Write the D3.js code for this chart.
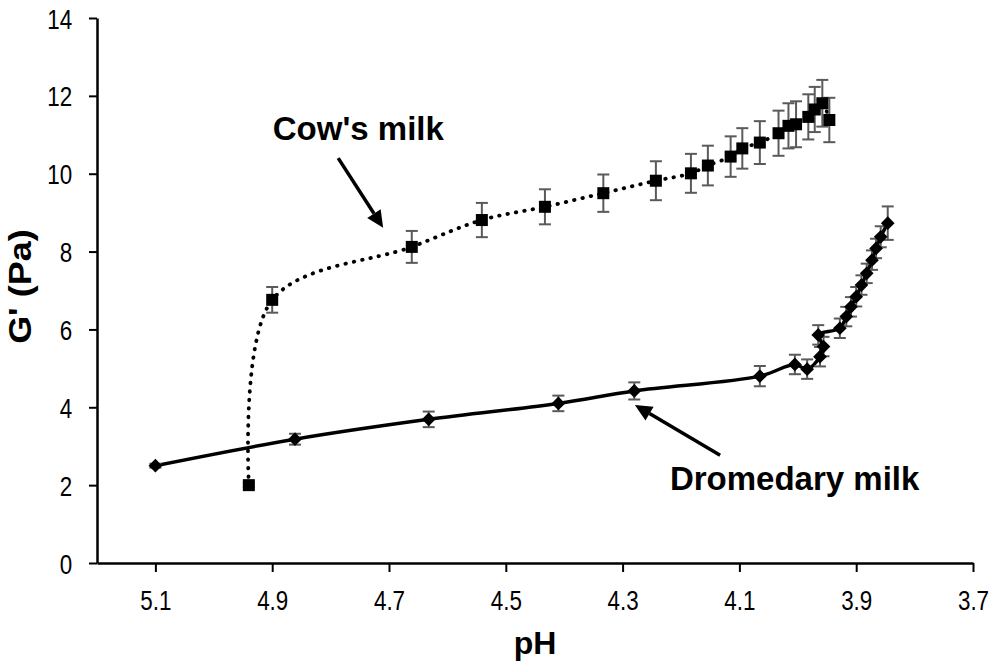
<!DOCTYPE html>
<html>
<head>
<meta charset="utf-8">
<script src="https://cdn.jsdelivr.net/npm/d3@7/dist/d3.min.js"></script>
<style>
  html, body { margin: 0; padding: 0; background: #fff; }
  svg { display: block; }
</style>
</head>
<body>
<svg id="chart" width="989" height="661"></svg>
<script>
// ---- Data ----
const cowPH  = [4.94, 4.90, 4.661, 4.541, 4.433, 4.333, 4.243, 4.183, 4.154, 4.115, 4.095, 4.065, 4.033, 4.016, 4.003, 3.982, 3.971, 3.958, 3.946];
const cowG   = [2.00, 6.76, 8.12, 8.81, 9.15, 9.50, 9.82, 10.01, 10.21, 10.44, 10.65, 10.80, 11.04, 11.23, 11.27, 11.46, 11.65, 11.81, 11.38];
const cowErr = [0.05, 0.33, 0.41, 0.44, 0.45, 0.48, 0.50, 0.50, 0.51, 0.52, 0.52, 0.55, 0.58, 0.58, 0.59, 0.58, 0.58, 0.60, 0.57];

const droPH  = [5.10, 4.861, 4.632, 4.410, 4.280, 4.065, 4.005, 3.984, 3.962, 3.956, 3.965, 3.928, 3.917, 3.909, 3.900, 3.891, 3.882, 3.873, 3.866, 3.858, 3.846];
const droG   = [2.50, 3.18, 3.69, 4.10, 4.42, 4.80, 5.10, 4.98, 5.30, 5.56, 5.86, 6.03, 6.33, 6.58, 6.84, 7.14, 7.44, 7.78, 8.08, 8.38, 8.73];
const droErr = [0.05, 0.14, 0.20, 0.20, 0.22, 0.26, 0.25, 0.25, 0.25, 0.25, 0.25, 0.25, 0.25, 0.25, 0.25, 0.25, 0.25, 0.25, 0.25, 0.27, 0.43];

const xTicks = [5.1, 4.9, 4.7, 4.5, 4.3, 4.1, 3.9, 3.7];
const yTicks = [0, 2, 4, 6, 8, 10, 12, 14];
const xTitle = "pH";
const yTitle = "G' (Pa)";

// annotations in data units
const annLabels = ["Cow's milk", "Dromedary milk"];
const annLabelPH = [4.899, 4.219];
const annLabelG  = [10.87, 1.875];
const annTailPH  = [4.787, 4.133];
const annTailG   = [10.40, 2.77];
const annTipPH   = [4.710, 4.279];
const annTipG    = [8.61, 4.06];

const FONT = "'Liberation Sans', Arial, sans-serif";

// ---- Layout ----
const svg = d3.select("#chart");
const x = d3.scaleLinear().domain([5.2, 3.7]).range([97, 973]);
const y = d3.scaleLinear().domain([0, 14]).range([563, 18]);

const cow = cowPH.map((p, i) => ({ x: p, y: cowG[i], e: cowErr[i] }));
const dro = droPH.map((p, i) => ({ x: p, y: droG[i], e: droErr[i] }));

// ---- Axes ----
const xAxis = svg.append("g").attr("transform", `translate(0,${y(0)})`)
  .call(d3.axisBottom(x).tickValues(xTicks).tickFormat(d3.format(".1f")).tickSize(9).tickSizeOuter(0).tickPadding(18));
const yAxis = svg.append("g").attr("transform", `translate(${x(5.2)},0)`)
  .call(d3.axisLeft(y).tickValues(yTicks).tickFormat(d3.format("d")).tickSize(8).tickSizeOuter(0).tickPadding(23));

[xAxis, yAxis].forEach(g => {
  g.attr("font-family", FONT);
  g.select(".domain").attr("stroke", "#000").attr("stroke-width", 2.5);
  g.selectAll(".tick line").attr("stroke", "#000").attr("stroke-width", 2);
  g.selectAll(".tick text").style("font-family", FONT).attr("font-size", 28).attr("fill", "#000")
    .attr("transform", "scale(0.8,1)");
});
xAxis.selectAll(".tick text").attr("dy", "0.72em");
yAxis.selectAll(".tick text").attr("dy", "0.36em");

svg.append("text").style("font-family", FONT).attr("x", 535).attr("y", 654).attr("text-anchor", "middle")
  .attr("font-size", 32).attr("font-weight", "bold").text(xTitle);
svg.append("text").style("font-family", FONT)
  .attr("transform", `translate(31,${y(7.1)}) rotate(-90) scale(1,0.85)`).attr("text-anchor", "middle")
  .attr("font-size", 36).attr("font-weight", "bold").text(yTitle);

// ---- Lines ----
const line = d3.line().x(d => x(d.x)).y(d => y(d.y)).curve(d3.curveCatmullRom.alpha(0.5));

svg.append("path").datum(cow).attr("d", line).attr("fill", "none")
  .attr("stroke", "#000").attr("stroke-width", 3.8).attr("stroke-linecap", "round")
  .attr("stroke-dasharray", "0.5 8");
svg.append("path").datum(dro).attr("d", line).attr("fill", "none")
  .attr("stroke", "#000").attr("stroke-width", 3.5);

// ---- Error bars ----
function errorBars(data) {
  const g = svg.append("g").attr("stroke", "#5a5a5a").attr("stroke-width", 2);
  data.forEach(d => {
    const cx = x(d.x), yt = y(d.y + d.e), yb = y(d.y - d.e);
    g.append("line").attr("x1", cx).attr("x2", cx).attr("y1", yt).attr("y2", yb);
    g.append("line").attr("x1", cx - 6).attr("x2", cx + 6).attr("y1", yt).attr("y2", yt);
    g.append("line").attr("x1", cx - 6).attr("x2", cx + 6).attr("y1", yb).attr("y2", yb);
  });
}
errorBars(cow);
errorBars(dro);

// ---- Markers ----
svg.append("g").selectAll("rect").data(cow).join("rect")
  .attr("x", d => x(d.x) - 6).attr("y", d => y(d.y) - 6)
  .attr("width", 12).attr("height", 12).attr("fill", "#000");
svg.append("g").selectAll("path").data(dro).join("path")
  .attr("d", d3.symbol(d3.symbolDiamond2, 120))
  .attr("transform", d => `translate(${x(d.x)},${y(d.y)})`).attr("fill", "#000");

// ---- Annotations ----
annLabels.forEach((lab, i) => {
  svg.append("text").style("font-family", FONT).attr("x", x(annLabelPH[i])).attr("y", y(annLabelG[i]))
    .attr("font-size", 33).attr("font-weight", "bold").text(lab);
  const x1 = x(annTailPH[i]), y1 = y(annTailG[i]), x2 = x(annTipPH[i]), y2 = y(annTipG[i]);
  const ang = Math.atan2(y2 - y1, x2 - x1);
  const L = 17, W = 8;
  const bx = x2 - L * Math.cos(ang), by = y2 - L * Math.sin(ang);
  svg.append("line").attr("x1", x1).attr("y1", y1).attr("x2", bx).attr("y2", by)
    .attr("stroke", "#000").attr("stroke-width", 3.5);
  const px = -Math.sin(ang), py = Math.cos(ang);
  svg.append("path")
    .attr("d", `M${x2},${y2}L${bx + W * px},${by + W * py}L${bx - W * px},${by - W * py}Z`)
    .attr("fill", "#000");
});
</script>
</body>
</html>
